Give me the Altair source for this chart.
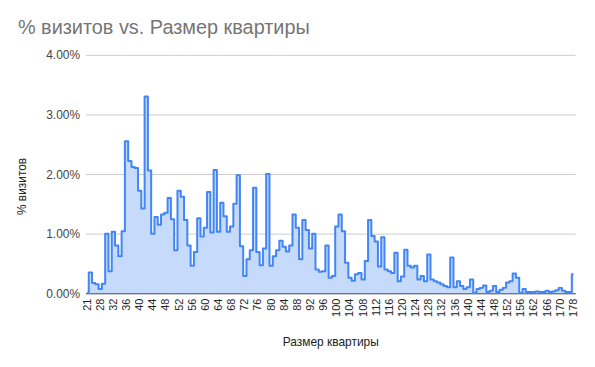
import altair as alt
import pandas as pd

# Apartment size categories (only sizes present in the data)
sizes = [21, 24, 26, 27] + list(range(28, 157)) + [157, 159, 160, 162, 163, 164, 165, 166,
                                                    167, 168, 169, 170, 172, 174, 176, 178]

# % of visits for each size (percent)
visits_pct = [
    0.01, 0.35, 0.17, 0.15, 0.07, 0.16, 1.00, 0.37, 1.03, 0.80,
    0.62, 1.04, 2.55, 2.22, 2.12, 2.10, 1.72, 1.42, 3.30, 2.06,
    1.00, 1.28, 1.15, 1.32, 1.35, 1.60, 1.24, 0.72, 1.72, 1.62,
    1.23, 0.80, 0.46, 0.69, 1.26, 0.95, 1.10, 1.70, 1.02, 2.07,
    1.03, 1.52, 1.29, 1.03, 1.12, 1.50, 1.98, 0.79, 0.29, 0.57,
    0.72, 1.77, 0.69, 0.47, 0.75, 2.00, 0.46, 0.62, 0.72, 0.88,
    0.78, 0.70, 0.80, 1.32, 1.10, 0.57, 1.23, 1.06, 0.75, 1.00,
    0.40, 0.36, 0.37, 0.80, 0.26, 0.29, 1.12, 1.32, 1.04, 0.51,
    0.26, 0.21, 0.32, 0.34, 0.23, 0.54, 1.23, 0.96, 0.87, 0.45,
    0.94, 0.40, 0.37, 0.34, 0.68, 0.20, 0.28, 0.73, 0.46, 0.43,
    0.46, 0.23, 0.29, 0.20, 0.65, 0.23, 0.20, 0.18, 0.15, 0.12,
    0.10, 0.60, 0.10, 0.20, 0.12, 0.07, 0.10, 0.23, 0.01, 0.07,
    0.09, 0.13, 0.02, 0.04, 0.12, 0.02, 0.06, 0.09, 0.18, 0.20,
    0.33, 0.26, 0.01, 0.07, 0.02, 0.02, 0.02, 0.03, 0.02, 0.02,
    0.04, 0.02, 0.03, 0.05, 0.09, 0.04, 0.02, 0.02, 0.32,
]

# x-axis tick labels shown
tick_labels = [21, 28, 32, 36, 40, 44, 48, 52, 56, 60, 64, 68, 72, 76, 80, 84, 88, 92, 96,
               100, 104, 108, 112, 116, 120, 124, 128, 132, 136, 140, 144, 148, 152, 156,
               162, 166, 170, 178]

y_ticks = [0.0, 0.01, 0.02, 0.03, 0.04]

df = pd.DataFrame({"size": sizes, "visits": [v / 100 for v in visits_pct]})

FONT = "Liberation Sans"

x_enc = alt.X(
    "size:O",
    scale=alt.Scale(type="point", padding=0.5),
    axis=alt.Axis(
        values=tick_labels,
        labelAngle=270,
        labelAlign="right",
        labelBaseline="middle",
        labelPadding=5,
        labelOverlap=False,
        labelFontSize=11,
        labelColor="#222222",
        labelFont=FONT,
        ticks=False,
        domainColor="#333333",
        grid=False,
        title="Размер квартиры",
        titleFont=FONT,
        titleFontSize=12,
        titleFontWeight="normal",
        titleColor="#222222",
        titleY=53,
        titleBaseline="alphabetic",
    ),
)

y_enc = alt.Y(
    "visits:Q",
    scale=alt.Scale(domain=[0, 0.04]),
    axis=alt.Axis(
        values=y_ticks,
        format=".2%",
        grid=True,
        gridColor="#cccccc",
        domain=False,
        ticks=False,
        labelPadding=6,
        labelFontSize=12,
        labelColor="#444444",
        labelFont=FONT,
        title="% визитов",
        titleFont=FONT,
        titleFontSize=12,
        titleFontWeight="normal",
        titleColor="#222222",
        titleAngle=270,
        titleX=-60,
        titleY=132,
        titleAlign="center",
        titleBaseline="alphabetic",
    ),
)

area = alt.Chart(df).mark_area(color="#c6dafc", interpolate="step").encode(x=x_enc, y=y_enc)
line = alt.Chart(df).mark_line(
    color="#4285f4", strokeWidth=2, interpolate="step", strokeJoin="round"
).encode(x=alt.X("size:O"), y=alt.Y("visits:Q"))

chart = (
    alt.layer(area, line)
    .properties(
        width=493,
        height=240,
        autosize="none",
        padding={"left": 78, "top": 46, "right": 12, "bottom": 62},
        title=alt.TitleParams(
            text="% визитов vs. Размер квартиры",
            anchor="start",
            frame="group",
            dx=-68,
            dy=26,
            offset=21,
            baseline="alphabetic",
            font=FONT,
            fontSize=20,
            fontWeight="normal",
            color="#757575",
        ),
    )
    .configure_view(stroke=None)
)

chart.save("out.html", embed_options={"renderer": "svg", "actions": False})
